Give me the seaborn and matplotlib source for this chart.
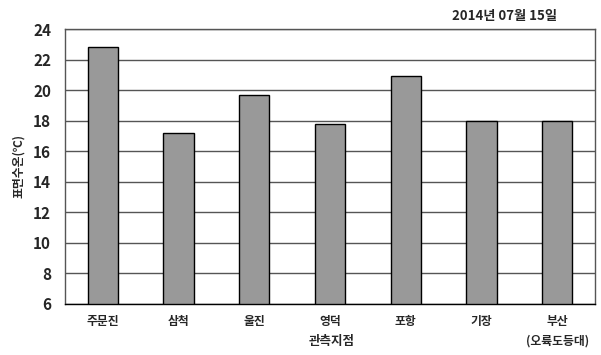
import pandas as pd
import matplotlib.pyplot as plt
import seaborn as sns

stations = ['주문진', '삼척', '울진', '영덕', '포항', '기장', '부산\n(오륙도등대)']
temps = [22.8, 17.2, 19.7, 17.8, 20.9, 18.0, 18.0]
yticks = [6, 8, 10, 12, 14, 16, 18, 20, 22, 24]

df = pd.DataFrame({'station': stations, 'temp': temps})

sns.set_style('white')
plt.rcParams['font.family'] = ['Noto Sans CJK KR', 'DejaVu Sans']

fig = plt.figure(figsize=(6.01, 3.55), dpi=100)
ax = fig.add_axes([0.108, 0.1437, 0.882, 0.7746])

sns.barplot(x='station', y='temp', data=df, color='#999999', edgecolor='black',
            linewidth=1, width=0.4, saturation=1, ax=ax)

ax.set_ylim(6, 24)
ax.set_yticks(yticks)
ax.set_yticklabels([str(v) for v in yticks], fontsize=11, fontweight='bold')
ax.yaxis.grid(True, color='#555555', linewidth=1)
ax.set_axisbelow(True)
ax.set_xlim(-0.5, len(stations) - 0.5)

ax.set_xticks(range(len(stations)))
ax.set_xticklabels(stations, fontsize=8.5, fontweight='bold', linespacing=1.6)
ax.set_xticks([i + 0.5 for i in range(len(stations) - 1)], minor=True)
ax.tick_params(axis='x', which='major', length=0, pad=8)
ax.tick_params(axis='x', which='minor', length=4, direction='in', color='#555555')
ax.tick_params(axis='y', length=0, pad=10)

for s in ax.spines.values():
    s.set_color('#555555')
    s.set_linewidth(1)
ax.spines['bottom'].set_color('black')

ax.set_xlabel('')
ax.set_ylabel('표면수온(℃)', fontsize=8.5, fontweight='bold', labelpad=6)
fig.text(0.552, 0.038, '관측지점', fontsize=9, fontweight='bold', ha='center', va='center')
fig.text(0.84, 0.955, '2014년 07월 15일', fontsize=9.5, fontweight='bold', ha='center', va='center')

plt.savefig('out.png', dpi=100)
